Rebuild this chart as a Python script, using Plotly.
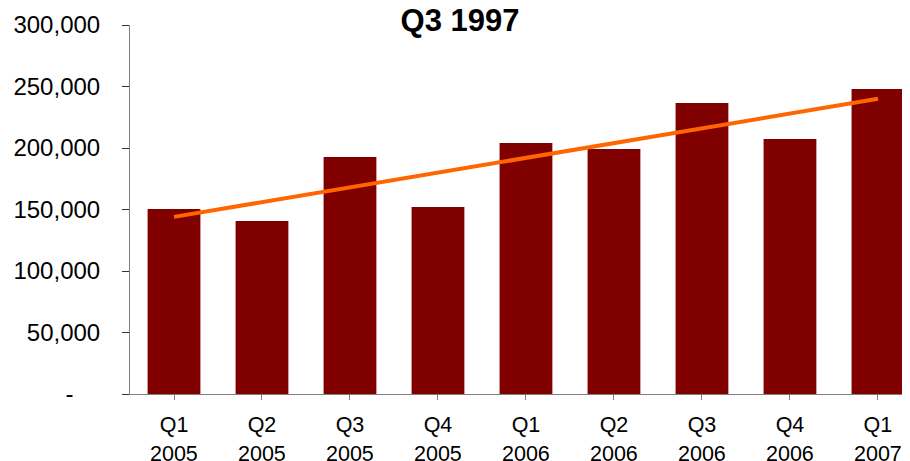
import plotly.graph_objects as go

quarters = ["Q1", "Q2", "Q3", "Q4", "Q1", "Q2", "Q3", "Q4", "Q1"]
years = ["2005", "2005", "2005", "2005", "2006", "2006", "2006", "2006", "2007"]
values = [150400, 140700, 192700, 152000, 204000, 199200, 236600, 207300, 248000]
trend_values = [144000, 240000]  # trend line endpoints
y_tick_vals = [0, 50000, 100000, 150000, 200000, 250000, 300000]
y_tick_text = ["-" + "\u00a0" * 4, "50,000", "100,000", "150,000", "200,000", "250,000", "300,000"]
title_text = "Q3 1997"

cats = list(range(len(values)))

FONT = "Liberation Sans, Arial, sans-serif"

# page is shown with an 8px body offset; margins compensate for it
W, H = 910, 461
L, T, B = 122, 17, 75
plot_h = H - T - B

fig = go.Figure()
fig.add_trace(go.Bar(
    x=cats, y=values, width=0.6,
    marker=dict(color="#800000", line=dict(width=0)),
    showlegend=False,
))
fig.add_trace(go.Scatter(
    x=[cats[0], cats[-1]], y=trend_values, mode="lines",
    line=dict(color="#FF6600", width=4),
    showlegend=False,
))

year_y = (H - B - 446) / plot_h
for c, yr in zip(cats, years):
    fig.add_annotation(x=c, y=year_y, xref="x", yref="paper", text=yr,
                       showarrow=False, xanchor="center", yanchor="middle",
                       font=dict(size=21.5, family=FONT, color="black"))

fig.update_layout(
    width=W, height=H,
    margin=dict(l=L, r=0, t=T, b=B, autoexpand=False),
    paper_bgcolor="white", plot_bgcolor="white",
    font=dict(family=FONT, color="black"),
    bargap=0.4,
    title=dict(text=f"<b>{title_text}</b>", x=452 / W, xref="container", xanchor="center",
               y=1 - 12 / H, yref="container", yanchor="middle", automargin=False,
               font=dict(size=31, family=FONT, color="black")),
)
fig.update_xaxes(
    tickmode="array", tickvals=cats, ticktext=quarters,
    range=[-0.5, 8.455], automargin=False,
    tickson="boundaries", ticks="outside", ticklen=5, tickcolor="#808080",
    showline=True, linecolor="#808080", linewidth=1,
    showgrid=False, zeroline=False,
    tickfont=dict(size=21.5, family=FONT, color="black"),
    ticklabelstandoff=6,
)
fig.update_yaxes(
    range=[0, 300000], automargin=False,
    tickmode="array", tickvals=y_tick_vals, ticktext=y_tick_text,
    ticks="outside", ticklen=7, tickcolor="#333333",
    showline=True, linecolor="#808080", linewidth=1,
    showgrid=False, zeroline=False,
    tickfont=dict(size=24, family=FONT, color="black"),
    ticklabelstandoff=17,
)

fig.write_html("out.html")
